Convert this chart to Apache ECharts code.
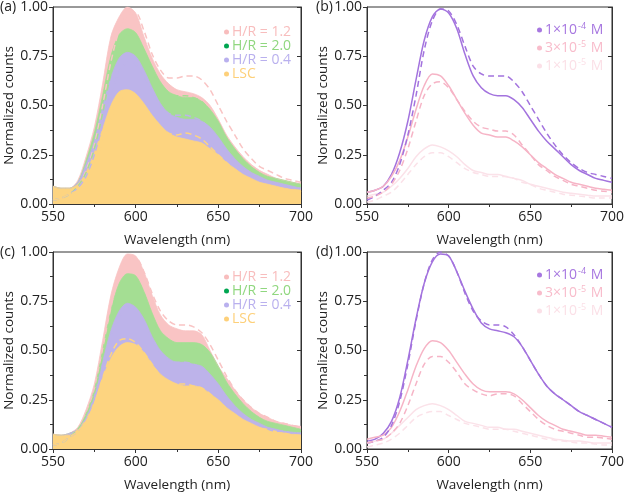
<!DOCTYPE html>
<html>
<head>
<meta charset="utf-8">
<script src="https://cdn.jsdelivr.net/npm/echarts@6/dist/echarts.min.js"></script>
<style>
  html, body { margin: 0; padding: 0; background: #fff; }
  #chart { width: 627px; height: 495px; }
</style>
</head>
<body>
<div id="chart"></div>
<script>
  // wavelength grid (nm)
  const wl = [550, 555, 560, 565, 570, 575, 580, 585, 590, 595, 600, 605, 610, 615, 620, 625,
    630, 635, 640, 645, 650, 655, 660, 665, 670, 675, 680, 685, 690, 695, 700]
  const yTicks = [0, 0.25, 0.5, 0.75, 1]

  // (a) filled spectra + dashed references
  const aPink = [0.09, 0.08, 0.08, 0.12, 0.24, 0.39, 0.61, 0.85, 0.95, 1.00, 0.97, 0.85, 0.74, 0.66, 0.61, 0.58, 0.57, 0.56, 0.54, 0.50, 0.43, 0.35, 0.29, 0.24, 0.20, 0.17, 0.15, 0.13, 0.12, 0.11, 0.105]
  const aGreen = [0.09, 0.08, 0.08, 0.11, 0.22, 0.36, 0.55, 0.75, 0.86, 0.89, 0.87, 0.79, 0.70, 0.62, 0.57, 0.55, 0.54, 0.54, 0.52, 0.48, 0.42, 0.34, 0.28, 0.23, 0.19, 0.16, 0.14, 0.13, 0.12, 0.11, 0.10]
  const aPurple = [0.09, 0.08, 0.08, 0.11, 0.20, 0.32, 0.49, 0.64, 0.74, 0.77, 0.75, 0.68, 0.59, 0.51, 0.46, 0.44, 0.43, 0.43, 0.42, 0.39, 0.34, 0.28, 0.23, 0.19, 0.16, 0.14, 0.12, 0.11, 0.10, 0.09, 0.08]
  const aLsc = [0.09, 0.08, 0.08, 0.10, 0.16, 0.26, 0.38, 0.50, 0.57, 0.58, 0.56, 0.51, 0.45, 0.40, 0.36, 0.34, 0.33, 0.32, 0.31, 0.28, 0.25, 0.21, 0.18, 0.15, 0.13, 0.11, 0.10, 0.09, 0.08, 0.075, 0.07]
  const aPinkD = [0.02, 0.03, 0.05, 0.09, 0.17, 0.30, 0.50, 0.72, 0.88, 0.96, 0.97, 0.88, 0.76, 0.68, 0.64, 0.64, 0.65, 0.65, 0.63, 0.58, 0.50, 0.42, 0.35, 0.28, 0.23, 0.19, 0.17, 0.15, 0.13, 0.12, 0.11]
  const aGreenD = [0.02, 0.03, 0.05, 0.09, 0.16, 0.28, 0.46, 0.66, 0.80, 0.86, 0.85, 0.78, 0.68, 0.60, 0.56, 0.55, 0.55, 0.54, 0.52, 0.47, 0.40, 0.33, 0.27, 0.22, 0.18, 0.15, 0.13, 0.12, 0.11, 0.10, 0.09]
  const aPurpleD = [0.02, 0.03, 0.05, 0.08, 0.14, 0.25, 0.40, 0.56, 0.67, 0.72, 0.71, 0.65, 0.57, 0.50, 0.46, 0.45, 0.45, 0.44, 0.42, 0.38, 0.33, 0.27, 0.22, 0.18, 0.15, 0.13, 0.11, 0.10, 0.09, 0.08, 0.08]
  const aLscD = [0.02, 0.03, 0.05, 0.07, 0.12, 0.20, 0.31, 0.43, 0.51, 0.55, 0.54, 0.50, 0.44, 0.39, 0.36, 0.35, 0.36, 0.35, 0.33, 0.29, 0.25, 0.21, 0.17, 0.14, 0.12, 0.10, 0.09, 0.08, 0.07, 0.07, 0.06]

  // (c)
  const cPink = [0.075, 0.07, 0.08, 0.11, 0.20, 0.33, 0.55, 0.78, 0.92, 0.99, 0.98, 0.90, 0.78, 0.68, 0.63, 0.61, 0.60, 0.60, 0.58, 0.50, 0.42, 0.36, 0.30, 0.25, 0.21, 0.18, 0.16, 0.14, 0.13, 0.12, 0.115]
  const cGreen = [0.075, 0.07, 0.08, 0.10, 0.18, 0.30, 0.50, 0.70, 0.84, 0.89, 0.88, 0.80, 0.69, 0.60, 0.56, 0.54, 0.54, 0.54, 0.53, 0.49, 0.42, 0.34, 0.28, 0.23, 0.19, 0.16, 0.14, 0.13, 0.12, 0.11, 0.10]
  const cPurple = [0.075, 0.07, 0.08, 0.10, 0.16, 0.27, 0.44, 0.60, 0.70, 0.74, 0.72, 0.66, 0.57, 0.50, 0.46, 0.44, 0.44, 0.43, 0.42, 0.38, 0.33, 0.27, 0.22, 0.18, 0.15, 0.13, 0.11, 0.10, 0.09, 0.085, 0.08]
  const cLsc = [0.075, 0.07, 0.07, 0.10, 0.15, 0.24, 0.36, 0.46, 0.52, 0.54, 0.53, 0.49, 0.43, 0.38, 0.35, 0.33, 0.32, 0.32, 0.31, 0.28, 0.25, 0.21, 0.18, 0.15, 0.13, 0.11, 0.10, 0.09, 0.08, 0.075, 0.07]
  const cPinkD = [0.02, 0.03, 0.06, 0.10, 0.18, 0.30, 0.50, 0.72, 0.88, 0.96, 0.97, 0.90, 0.79, 0.70, 0.65, 0.63, 0.63, 0.62, 0.59, 0.53, 0.45, 0.37, 0.30, 0.25, 0.21, 0.18, 0.16, 0.14, 0.13, 0.12, 0.11]
  const cGreenD = [0.02, 0.03, 0.06, 0.10, 0.17, 0.28, 0.47, 0.67, 0.82, 0.88, 0.87, 0.79, 0.67, 0.58, 0.54, 0.52, 0.51, 0.51, 0.50, 0.46, 0.39, 0.32, 0.26, 0.21, 0.18, 0.15, 0.13, 0.12, 0.11, 0.10, 0.09]
  const cPurpleD = [0.02, 0.03, 0.06, 0.09, 0.15, 0.25, 0.41, 0.57, 0.67, 0.72, 0.71, 0.65, 0.56, 0.49, 0.45, 0.44, 0.44, 0.43, 0.41, 0.37, 0.32, 0.26, 0.21, 0.17, 0.14, 0.12, 0.10, 0.09, 0.09, 0.08, 0.08]
  const cLscD = [0.02, 0.03, 0.06, 0.09, 0.14, 0.23, 0.36, 0.48, 0.55, 0.56, 0.54, 0.49, 0.43, 0.37, 0.34, 0.33, 0.33, 0.32, 0.31, 0.28, 0.24, 0.20, 0.17, 0.14, 0.12, 0.10, 0.09, 0.08, 0.08, 0.07, 0.07]

  // (b) concentration series, solid + dashed
  const bHigh = [0.06, 0.07, 0.09, 0.15, 0.26, 0.42, 0.63, 0.83, 0.95, 0.99, 0.97, 0.89, 0.76, 0.65, 0.59, 0.56, 0.55, 0.55, 0.53, 0.49, 0.43, 0.37, 0.32, 0.28, 0.24, 0.20, 0.17, 0.15, 0.13, 0.12, 0.11]
  const bHighD = [0.02, 0.04, 0.07, 0.11, 0.20, 0.35, 0.55, 0.78, 0.93, 0.99, 0.98, 0.91, 0.80, 0.70, 0.66, 0.65, 0.65, 0.65, 0.62, 0.57, 0.50, 0.43, 0.36, 0.30, 0.25, 0.21, 0.18, 0.16, 0.15, 0.14, 0.13]
  const bMid = [0.06, 0.07, 0.09, 0.14, 0.22, 0.34, 0.48, 0.60, 0.66, 0.65, 0.60, 0.53, 0.46, 0.40, 0.36, 0.35, 0.34, 0.34, 0.32, 0.29, 0.25, 0.21, 0.18, 0.15, 0.13, 0.11, 0.10, 0.09, 0.08, 0.075, 0.07]
  const bMidD = [0.03, 0.04, 0.06, 0.10, 0.17, 0.28, 0.42, 0.55, 0.61, 0.62, 0.59, 0.53, 0.47, 0.42, 0.39, 0.38, 0.37, 0.37, 0.35, 0.30, 0.25, 0.20, 0.17, 0.14, 0.12, 0.10, 0.09, 0.08, 0.07, 0.065, 0.06]
  const bLow = [0.04, 0.05, 0.06, 0.09, 0.13, 0.18, 0.24, 0.28, 0.30, 0.29, 0.27, 0.24, 0.20, 0.17, 0.16, 0.15, 0.15, 0.14, 0.13, 0.12, 0.10, 0.09, 0.08, 0.07, 0.06, 0.055, 0.05, 0.045, 0.04, 0.04, 0.04]
  const bLowD = [0.01, 0.02, 0.04, 0.06, 0.10, 0.15, 0.20, 0.24, 0.26, 0.26, 0.24, 0.21, 0.18, 0.16, 0.15, 0.14, 0.14, 0.14, 0.13, 0.11, 0.10, 0.08, 0.07, 0.06, 0.05, 0.045, 0.04, 0.035, 0.03, 0.03, 0.03]

  // (d)
  const dHigh = [0.04, 0.05, 0.08, 0.14, 0.26, 0.45, 0.66, 0.84, 0.95, 0.99, 0.98, 0.90, 0.80, 0.71, 0.64, 0.61, 0.60, 0.59, 0.57, 0.52, 0.45, 0.38, 0.32, 0.28, 0.25, 0.22, 0.19, 0.17, 0.15, 0.13, 0.11]
  const dHighD = [0.03, 0.04, 0.06, 0.12, 0.24, 0.43, 0.65, 0.84, 0.96, 1.00, 0.98, 0.90, 0.79, 0.70, 0.65, 0.63, 0.63, 0.62, 0.58, 0.52, 0.45, 0.38, 0.32, 0.28, 0.25, 0.22, 0.19, 0.17, 0.15, 0.13, 0.11]
  const dMid = [0.05, 0.06, 0.07, 0.11, 0.19, 0.30, 0.42, 0.51, 0.55, 0.54, 0.50, 0.44, 0.38, 0.33, 0.30, 0.29, 0.29, 0.29, 0.28, 0.25, 0.21, 0.17, 0.14, 0.12, 0.10, 0.09, 0.08, 0.07, 0.07, 0.065, 0.06]
  const dMidD = [0.03, 0.04, 0.05, 0.08, 0.13, 0.22, 0.33, 0.43, 0.47, 0.47, 0.44, 0.39, 0.33, 0.30, 0.28, 0.27, 0.28, 0.28, 0.27, 0.23, 0.19, 0.15, 0.12, 0.10, 0.09, 0.08, 0.07, 0.06, 0.06, 0.055, 0.05]
  const dLow = [0.03, 0.04, 0.05, 0.08, 0.12, 0.16, 0.20, 0.22, 0.23, 0.22, 0.20, 0.17, 0.14, 0.13, 0.12, 0.11, 0.11, 0.10, 0.10, 0.09, 0.08, 0.07, 0.06, 0.05, 0.045, 0.04, 0.04, 0.035, 0.03, 0.03, 0.03]
  const dLowD = [0.01, 0.02, 0.03, 0.05, 0.08, 0.12, 0.16, 0.18, 0.19, 0.19, 0.17, 0.15, 0.13, 0.12, 0.11, 0.10, 0.10, 0.10, 0.09, 0.08, 0.07, 0.06, 0.05, 0.045, 0.04, 0.035, 0.03, 0.03, 0.025, 0.02, 0.02]

  const hrNames = ['H/R = 1.2', 'H/R = 2.0', 'H/R = 0.4', 'LSC']
  const concNames = ['1×10-4 M', '3×10-5 M', '1×10-5 M']

  const FONT = 'Open Sans'
  const colors = {
    pink: '#f9c4c4',
    green: '#a4de93',
    purple: '#bdb3ea',
    orange: '#fdd480',
    vio: '#a373de',
    rose: '#f6b4c6',
    blush: '#fbe2e9'
  }

  const grids = [
    {left: 53, top: 7, width: 248, height: 197},
    {left: 367, top: 7, width: 248, height: 197},
    {left: 53, top: 252, width: 248, height: 197},
    {left: 367, top: 252, width: 248, height: 197}
  ]

  function pairs(vals) {
    return wl.map((x, i) => [x, vals[i]])
  }

  function xAxisFor(i) {
    return {
      type: 'value', gridIndex: i, min: 550, max: 700, interval: 50,
      name: 'Wavelength (nm)', nameLocation: 'middle', nameGap: 29,
      nameTextStyle: {fontFamily: FONT, fontSize: 13.5, color: '#222'},
      axisLine: {show: true, onZero: false, lineStyle: {color: '#333', width: 1}},
      axisTick: {show: true, inside: false, length: 4, lineStyle: {color: '#333'}},
      minorTick: {show: true, splitNumber: 2, length: 3, lineStyle: {color: '#333'}},
      axisLabel: {fontFamily: FONT, fontSize: 14, color: '#222', margin: 6},
      splitLine: {show: false}
    }
  }

  function yAxesFor(i) {
    return [{
      type: 'value', gridIndex: i, min: 0, max: 1, interval: 0.25,
      name: 'Normalized counts', nameLocation: 'middle', nameGap: 32,
      nameTextStyle: {fontFamily: FONT, fontSize: 13.5, color: '#222'},
      axisLine: {show: true, lineStyle: {color: '#333', width: 1}},
      axisTick: {show: true, length: 4, lineStyle: {color: '#333'}},
      minorTick: {show: true, splitNumber: 2, length: 3, lineStyle: {color: '#333'}},
      axisLabel: {fontFamily: FONT, fontSize: 14, color: '#222', margin: 5,
        formatter: v => yTicks.indexOf(v) >= 0 ? v.toFixed(2) : ''},
      splitLine: {show: false}
    }, {
      type: 'value', gridIndex: i, min: 0, max: 1, interval: 0.25, position: 'right',
      axisLine: {show: true, lineStyle: {color: '#333', width: 1}},
      axisTick: {show: true, inside: true, length: 4, lineStyle: {color: '#333'}},
      axisLabel: {show: false},
      splitLine: {show: false}
    }]
  }

  const xAxis = [0, 1, 2, 3].map(xAxisFor)
  const yAxis = []
  ;[0, 1, 2, 3].forEach(i => yAxis.push(...yAxesFor(i)))

  const series = []

  function addArea(name, vals, color, gi) {
    series.push({
      name: name, type: 'line', xAxisIndex: gi, yAxisIndex: gi * 2,
      data: pairs(vals), symbol: 'none', smooth: 0.3, z: 2,
      lineStyle: {color: color, width: 0.8},
      itemStyle: {color: color},
      areaStyle: {color: color, opacity: 1}
    })
  }

  function addLine(name, vals, color, gi, dashed) {
    series.push({
      name: name, type: 'line', xAxisIndex: gi, yAxisIndex: gi * 2,
      data: pairs(vals), symbol: 'none', smooth: 0.3, z: dashed ? 4 : 3,
      lineStyle: {color: color, width: 1.5, type: dashed ? [6, 4] : 'solid'},
      itemStyle: {color: color}
    })
  }

  // panel a and c: areas (back to front) then dashed outlines
  const areaSets = [
    [aPink, aGreen, aPurple, aLsc, aPinkD, aGreenD, aPurpleD, aLscD, 0],
    [cPink, cGreen, cPurple, cLsc, cPinkD, cGreenD, cPurpleD, cLscD, 2]
  ]
  areaSets.forEach(s => {
    const gi = s[8]
    const cols = [colors.pink, colors.green, colors.purple, colors.orange]
    for (let k = 0; k < 4; k++) {
      addArea(hrNames[k], s[k], cols[k], gi)
    }
    for (let k = 0; k < 4; k++) {
      addLine(hrNames[k] + ' ref' + gi, s[k + 4], cols[k], gi, true)
    }
  })

  // panel b and d: lines
  const lineSets = [
    [bHigh, bHighD, bMid, bMidD, bLow, bLowD, 1],
    [dHigh, dHighD, dMid, dMidD, dLow, dLowD, 3]
  ]
  lineSets.forEach(s => {
    const gi = s[6]
    const cols = [colors.vio, colors.rose, colors.blush]
    for (let k = 0; k < 3; k++) {
      addLine(concNames[k], s[k * 2], cols[k], gi, false)
      addLine(concNames[k] + ' ref' + gi, s[k * 2 + 1], cols[k], gi, true)
    }
  })

  const hrText = ['#f8bdbd', '#90d77f', '#b9b0ee', '#fdd07a']
  const hrDot = ['#f8bdbd', '#00a651', '#b9b0ee', '#fdd07a']
  const concText = ['#a777e0', '#f8bccb', '#fbe0e7']

  function hrLegend(top) {
    return {
      orient: 'vertical', left: 219, top: top, itemGap: 0,
      icon: 'circle', itemWidth: 5, itemHeight: 5, selectedMode: false,
      textStyle: {fontFamily: FONT, fontSize: 14, lineHeight: 14, padding: [0, 0, 0, -2]},
      data: hrNames.map((n, k) => ({
        name: n, itemStyle: {color: hrDot[k]}, textStyle: {color: hrText[k]}
      }))
    }
  }

  function concLegend(top) {
    return {
      orient: 'vertical', left: 532, top: top, itemGap: 0,
      icon: 'circle', itemWidth: 5, itemHeight: 5, selectedMode: false,
      textStyle: {fontFamily: FONT, fontSize: 14, lineHeight: 18, padding: [0, 0, 0, -2]},
      formatter: name => {
        const k = concNames.indexOf(name)
        const parts = name.split('-')
        const exp = parts[1].split(' ')[0]
        return '{n' + k + '|' + parts[0] + '}{s' + k + '|-' + exp + '}{n' + k + '| M}'
      },
      data: concNames.map((n, k) => {
        const rich = {}
        rich['n' + k] = {fontFamily: FONT, fontSize: 14, color: concText[k], lineHeight: 18}
        rich['s' + k] = {fontFamily: FONT, fontSize: 9, color: concText[k], lineHeight: 18, padding: [0, 1, 8, 1]}
        return {name: n, itemStyle: {color: concText[k]}, textStyle: {color: concText[k], rich: rich}}
      })
    }
  }

  const tags = [['(a)', 0, 0], ['(b)', 316, 0], ['(c)', 0, 245], ['(d)', 316, 245]]

  const chart = echarts.init(document.getElementById('chart'))
  chart.setOption({
    animation: false,
    backgroundColor: '#fff',
    grid: grids.map(g => Object.assign({show: true, borderColor: '#333', borderWidth: 1, backgroundColor: 'transparent'}, g)),
    xAxis: xAxis,
    yAxis: yAxis,
    legend: [hrLegend(20), concLegend(16), hrLegend(265), concLegend(261)],
    graphic: tags.map(t => ({
      type: 'text', left: t[1], top: t[2],
      style: {text: t[0], font: '14px "' + FONT + '"', fill: '#222'}
    })),
    series: series
  })
</script>
</body>
</html>
